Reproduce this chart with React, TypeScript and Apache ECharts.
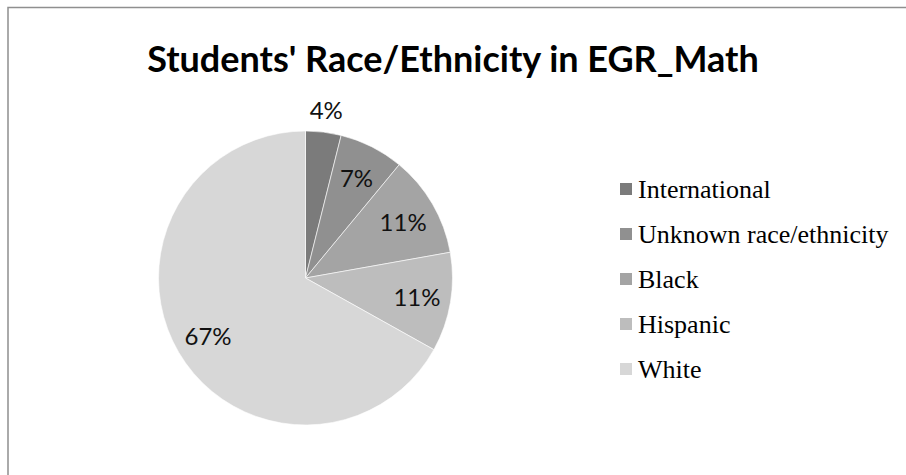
import React, { useEffect, useRef } from "react";
import * as echarts from "echarts";

const categories = ["International", "Unknown race/ethnicity", "Black", "Hispanic", "White"];
const values = [3.9, 7.1, 11.2, 10.9, 66.9];
const colors = ["#7b7b7b", "#909090", "#a4a4a4", "#bdbdbd", "#d7d7d7"];
const outsideLabelIndex = [0];

export default function App() {
  const ref = useRef<HTMLDivElement>(null);
  useEffect(() => {
    if (!ref.current) return;
    const chart = echarts.init(ref.current, null, { renderer: "svg" });
    const cx = 305.5;
    const cy = 278;
    const R = 147;
    const data = categories.map((name, i) => ({ name, value: values[i], itemStyle: { color: colors[i] } }));
    const labelStyle = {
      fontFamily: "Lato",
      fontSize: 24,
      color: "#111",
      formatter: "{d}%",
    };
    const clear = "rgba(0,0,0,0)";
    chart.setOption({
      animation: false,
      backgroundColor: "#fff",
      title: {
        text: "Students' Race/Ethnicity in EGR_Math",
        left: "center",
        top: 35,
        textStyle: { fontFamily: "Lato", fontWeight: "bold", fontSize: 36, color: "#000" },
      },
      legend: {
        orient: "vertical",
        left: 613,
        top: 171,
        icon: "rect",
        itemWidth: 14,
        itemHeight: 14,
        itemGap: 19,
        data: categories,
        textStyle: { fontFamily: "Liberation Serif", fontSize: 26, color: "#000" },
        selectedMode: false,
      },
      graphic: [
        {
          type: "rect",
          shape: { x: 8, y: 7.5, width: 1200, height: 1200 },
          style: { fill: "none", stroke: "#8f8f8f", lineWidth: 1.5 },
          silent: true,
        },
      ],
      series: [
        {
          type: "pie",
          center: [cx, cy],
          radius: [0, R],
          startAngle: 90,
          clockwise: true,
          percentPrecision: 0,
          data,
          label: { show: false },
          labelLine: { show: false },
          itemStyle: { borderColor: "#ffffff", borderWidth: 0.6 },
          silent: true,
        },
        {
          type: "pie",
          center: [cx, cy],
          radius: [0, 220],
          startAngle: 90,
          clockwise: true,
          percentPrecision: 0,
          data: data.map((d, i) => ({
            name: d.name,
            value: d.value,
            itemStyle: { color: clear, borderWidth: 0 },
            label: { show: !outsideLabelIndex.includes(i) },
          })),
          label: { ...labelStyle, position: "inside" },
          labelLine: { show: false },
          emphasis: { disabled: true },
          silent: true,
          z: 5,
        },
        {
          type: "pie",
          center: [cx, cy],
          radius: [0, 334],
          startAngle: 90,
          clockwise: true,
          percentPrecision: 0,
          data: data.map((d, i) => ({
            name: d.name,
            value: d.value,
            itemStyle: { color: clear, borderWidth: 0 },
            label: { show: outsideLabelIndex.includes(i) },
          })),
          label: { ...labelStyle, position: "inside" },
          labelLine: { show: false },
          emphasis: { disabled: true },
          silent: true,
          z: 5,
        },
      ],
    });
    return () => chart.dispose();
  }, []);
  return (
    <div
      ref={ref}
      style={{ position: "fixed", left: 0, top: 0, width: 906, height: 475 }}
    />
  );
}
